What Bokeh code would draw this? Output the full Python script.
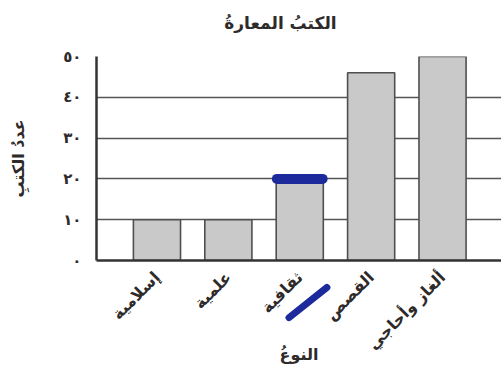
from bokeh.plotting import figure
from bokeh.models import Range1d, FixedTicker
from bokeh.core.properties import value
from bokeh.embed import file_html
from bokeh.resources import INLINE

# Borrowed books by genre
title_text = "الكتبُ المعارةُ"
categories = ["إسلامية", "علمية", "ثقافية", "القصص", "ألغاز وأحاجي"]
counts = [10, 10, 20, 46, 50]
y_ticks = [0, 10, 20, 30, 40, 50]
y_tick_labels = ["٠", "١٠", "٢٠", "٣٠", "٤٠", "٥٠"]
marked_category = 3  # the bar that carries the blue pen mark

xs = list(range(1, len(categories) + 1))
FONT = "DejaVu Sans"
INK = "#2e2a2a"

p = figure(
    width=501, height=372,
    x_range=Range1d(0.153, 5.826), y_range=Range1d(0, 50),
    output_backend="svg", toolbar_location=None,
    min_border_left=96, min_border_right=0,
    min_border_top=56, min_border_bottom=112,
    background_fill_color="white", border_fill_color="white",
    outline_line_color=None,
)

# title, set above the top gridline
p.text(x=[2.73], y=[58.3], text=[title_text],
       text_align="center", text_baseline="middle",
       text_font=value(FONT), text_font_size="17px", text_font_style="bold",
       text_color=INK, level="overlay")

# grid
p.xgrid.visible = False
p.ygrid.ticker = FixedTicker(ticks=y_ticks)
p.ygrid.grid_line_color = "#555555"
p.ygrid.grid_line_width = 1.6

# bars
p.vbar(x=xs, top=counts, width=0.66, bottom=0,
       fill_color="#c9c9c9", line_color="#4f4f4f", line_width=1.6)

# blue pen strokes on the third bar
mx = marked_category
mv = counts[mx - 1]
p.segment(x0=[mx - 0.32], y0=[mv], x1=[mx + 0.32], y1=[mv],
          line_color="#1c2a9c", line_width=10, line_cap="round")
p.segment(x0=[mx - 0.15], y0=[-14.0], x1=[mx + 0.38], y1=[-6.6],
          line_color="#1c2a9c", line_width=7, line_cap="round", level="overlay")

# x axis
xa = p.xaxis[0]
xa.ticker = FixedTicker(ticks=xs)
xa.major_label_overrides = {x: c for x, c in zip(xs, categories)}
xa.major_label_orientation = 3.14159265 / 4
xa.major_label_text_font = FONT
xa.major_label_text_font_size = "16px"
xa.major_label_text_font_style = "bold"
xa.major_label_text_color = INK
xa.major_label_standoff = 8
xa.major_tick_line_color = None
xa.minor_tick_line_color = None
xa.axis_line_color = "#333333"
xa.axis_line_width = 2.5
xa.axis_label = "النوعُ"
xa.axis_label_text_font = FONT
xa.axis_label_text_font_size = "16px"
xa.axis_label_text_font_style = "bold"
xa.axis_label_text_color = INK
xa.axis_label_standoff = -18

# y axis
ya = p.yaxis[0]
ya.ticker = FixedTicker(ticks=y_ticks)
ya.major_label_overrides = {t: s for t, s in zip(y_ticks, y_tick_labels)}
ya.major_label_text_font = FONT
ya.major_label_text_font_size = "15px"
ya.major_label_text_font_style = "bold"
ya.major_label_text_color = INK
ya.major_label_standoff = 9
ya.major_tick_line_color = None
ya.minor_tick_line_color = None
ya.axis_line_color = "#333333"
ya.axis_line_width = 2.5
ya.axis_label = "عددُ الكتبِ"
ya.axis_label_text_font = FONT
ya.axis_label_text_font_size = "16px"
ya.axis_label_text_font_style = "bold"
ya.axis_label_text_color = INK
ya.axis_label_standoff = 32

open("out.html", "w").write(file_html(p, INLINE))
